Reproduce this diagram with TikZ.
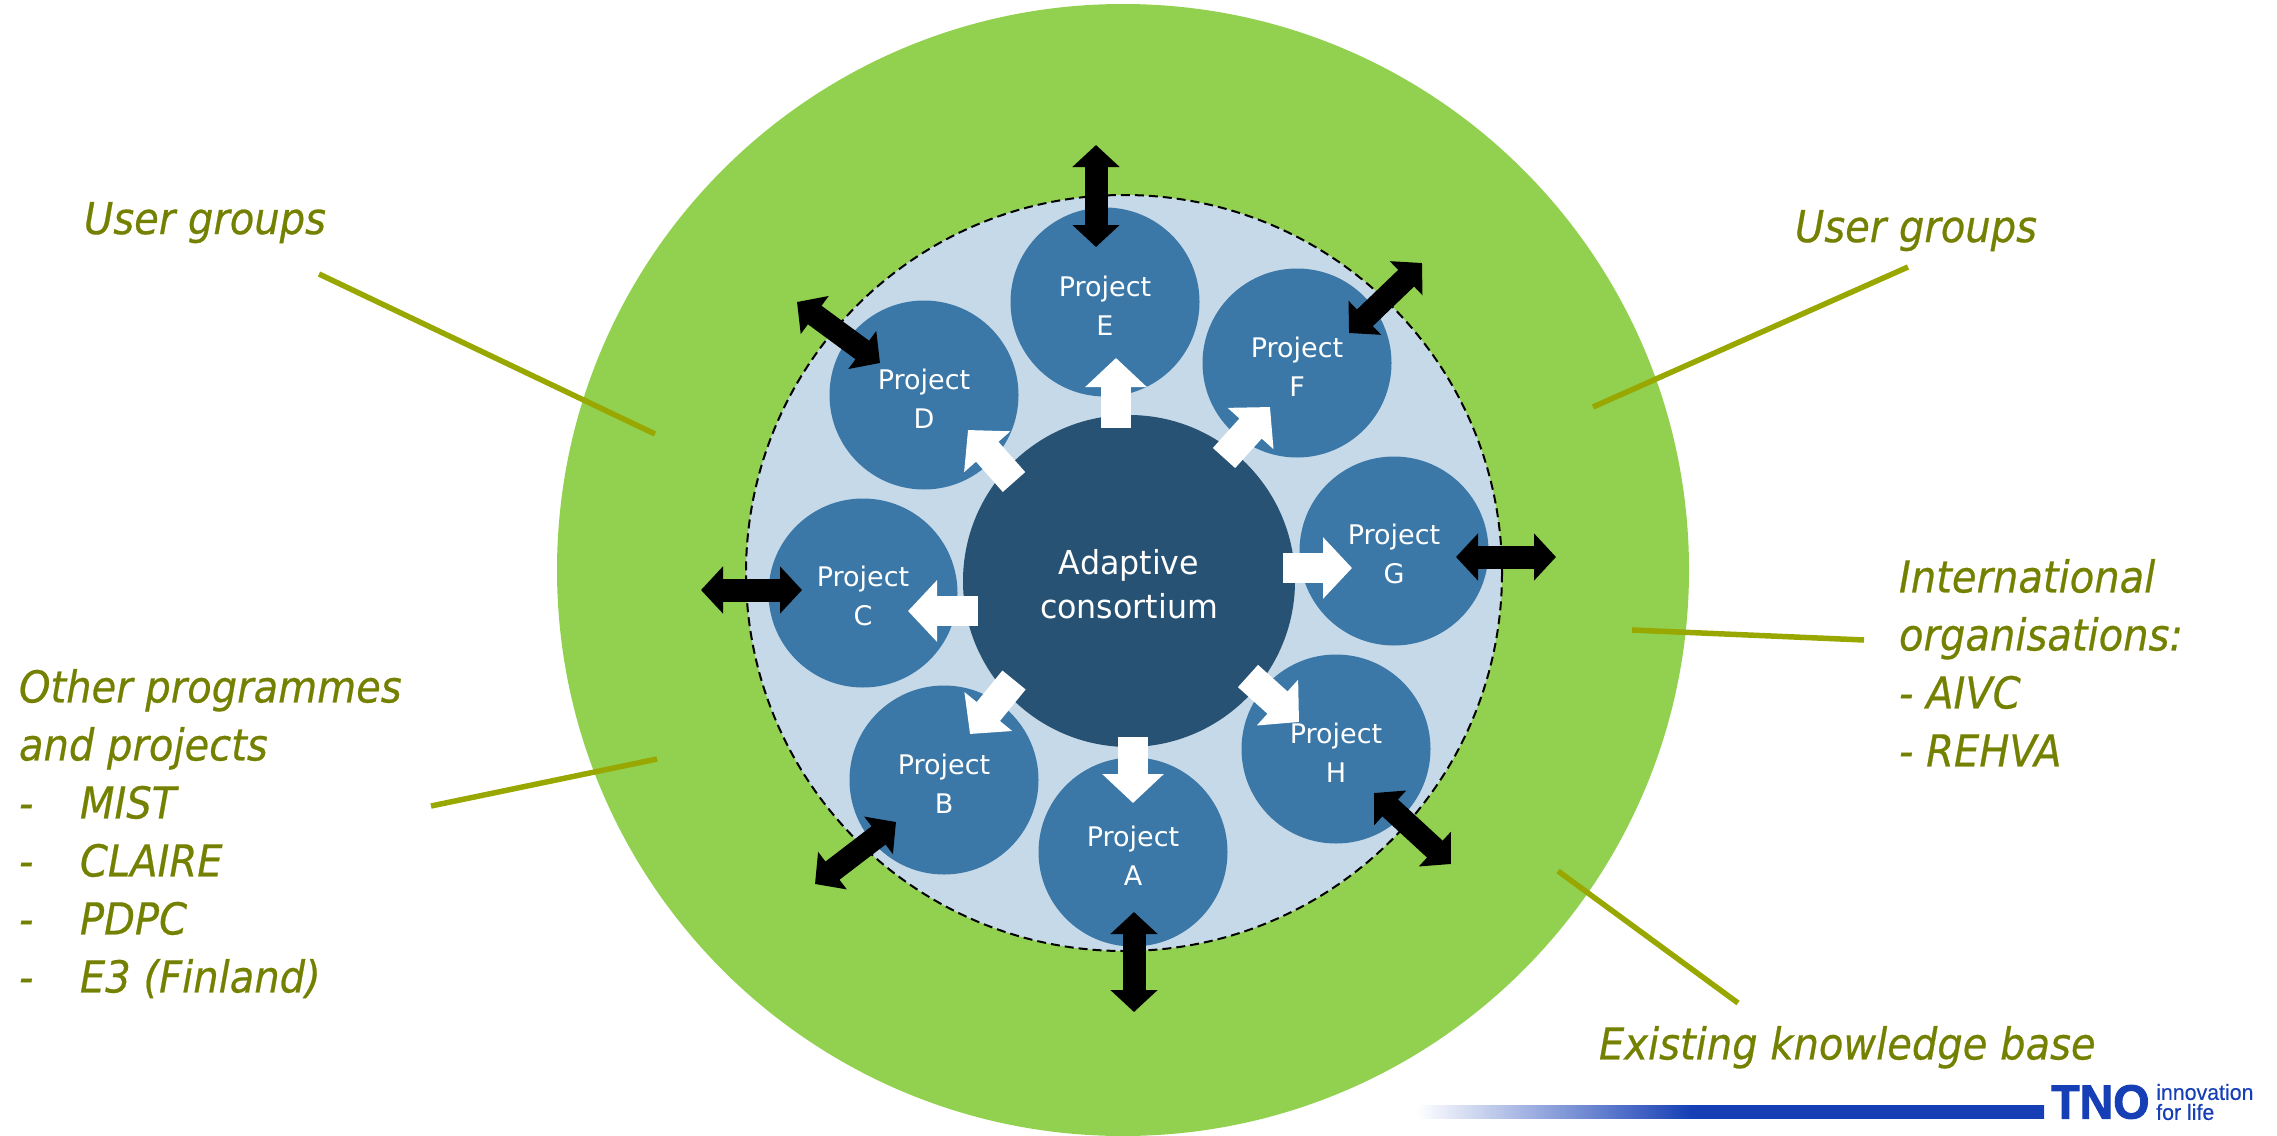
\documentclass[tikz,border=0pt]{standalone}
\usepackage{fontspec}
\setmainfont{DejaVu Sans}[FakeStretch=1.0]
\newfontfamily\hubfont{DejaVu Sans}[FakeStretch=0.96]
\newfontfamily\labelfont{DejaVu Sans}[FakeStretch=0.91,FakeBold=0.5]
\newfontfamily\logofont{Liberation Sans}[FakeStretch=0.97,FakeBold=2]
\newfontfamily\taglinefont{Liberation Sans}[FakeStretch=0.97,FakeBold=0.3]
\usepackage{tikz}
\usetikzlibrary{arrows.meta}
\definecolor{ringgreen}{HTML}{92D050}
\definecolor{innerblue}{HTML}{C6D9E8}
\definecolor{projblue}{HTML}{3B78A8}
\definecolor{hubblue}{HTML}{275273}
\definecolor{textolive}{HTML}{748000}
\definecolor{leadolive}{HTML}{99A800}
\definecolor{tnoblue}{HTML}{163FB5}
\pgfdeclarehorizontalshading{barfade}{100bp}{color(0bp)=(white); color(25bp)=(white); color(46.85bp)=(tnoblue); color(100bp)=(tnoblue)}
\newcommand{\projtext}[1]{\rule{0pt}{27pt}Project\\#1}

\begin{document}
\begin{tikzpicture}[
                x=1pt, y=-1pt,
                ringnode/.style={circle, fill=ringgreen, inner sep=0pt, outer sep=0pt, minimum size=1132pt},
                innernode/.style={circle, draw=black, dashed, line width=2pt, dash pattern=on 9pt off 5pt, fill=innerblue, inner sep=0pt, outer sep=0pt, minimum size=756pt},
                hubnode/.style={circle, fill=hubblue, text=white, align=center, inner sep=0pt, outer sep=0pt, minimum size=332pt, font=\hubfont\fontsize{33}{44}\selectfont},
                projnode/.style={circle, fill=projblue, text=white, align=center, inner sep=0pt, outer sep=0pt, minimum size=189pt, font=\fontsize{27}{39}\selectfont},
                labelnode/.style={text=textolive, align=left, anchor=north west, inner sep=0pt, outer sep=0pt, font=\labelfont\fontsize{44}{58}\selectfont\itshape},
                leadline/.style={draw=leadolive, line width=5.5pt},
                outarrow/.style={draw=white, line width=30pt, -{Triangle[length=29pt,width=60pt]}},
                linkarrow/.style={draw=black, line width=23pt, {Triangle[length=22pt,width=46pt]}-{Triangle[length=22pt,width=46pt]}},
            ]
            \useasboundingbox (0,0) rectangle (2277,1135);

            % Nodes
            \node[ringnode]     (ring)      at (1123,570)   {};
            \node[innernode]    (inner)     at (1124,573)   {};
            \node[hubnode]      (hub)       at (1129,581)   {\rule{0pt}{31pt}Adaptive\\consortium};

            \node[projnode]     (proj_A)    at (1133,852)   {\projtext{A}};
            \node[projnode]     (proj_B)    at (944,780)    {\projtext{B}};
            \node[projnode]     (proj_C)    at (863,593)    {\projtext{C}};
            \node[projnode]     (proj_D)    at (924,395)    {\projtext{D}};
            \node[projnode]     (proj_E)    at (1105,302)   {\projtext{E}};
            \node[projnode]     (proj_F)    at (1297,363)   {\projtext{F}};
            \node[projnode]     (proj_G)    at (1394,551)   {\projtext{G}};
            \node[projnode]     (proj_H)    at (1336,749)   {\projtext{H}};

            \node[labelnode]    (users_l)   at (84,202)     {User groups};
            \node[labelnode]    (users_r)   at (1795,210)   {User groups};
            \node[labelnode]    (intl)      at (1899,559)   {International\\organisations:\\- AIVC\\- REHVA};
            \node[labelnode]    (base)      at (1599,1026)  {Existing knowledge base};
            \node[labelnode]    (others)    at (19,669)     {Other programmes\\and projects\\\makebox[61pt][l]{-}MIST\\\makebox[61pt][l]{-}CLAIRE\\\makebox[61pt][l]{-}PDPC\\\makebox[61pt][l]{-}E3 (Finland)};

            % Logo
            \shade[shading=barfade, draw=none] (1417,1105) rectangle (2044,1118);
            \node[text=tnoblue, inner sep=0pt, anchor=west, font=\logofont\bfseries\fontsize{48}{48}\selectfont] (tno) at (2051,1102) {TNO};
            \node[text=tnoblue, inner sep=0pt, anchor=west, align=left, font=\taglinefont\fontsize{22}{20}\selectfont] (tagline) at (2156,1102) {innovation\\for life};

            % Ends of the lines and arrows
            \coordinate (lead_a1) at (319,274);   \coordinate (lead_a2) at (655,434);
            \coordinate (lead_b1) at (1908,267);  \coordinate (lead_b2) at (1593,407);
            \coordinate (lead_c1) at (1864,640);  \coordinate (lead_c2) at (1632,630);
            \coordinate (lead_d1) at (1738,1003); \coordinate (lead_d2) at (1558,871);
            \coordinate (lead_e1) at (431,806);   \coordinate (lead_e2) at (657,759);

            \coordinate (out_A1) at (1133,737);  \coordinate (out_A2) at (1133,803);
            \coordinate (out_B1) at (1014,680);  \coordinate (out_B2) at (970,734);
            \coordinate (out_C1) at (978,611);   \coordinate (out_C2) at (908,611);
            \coordinate (out_D1) at (1014,482);  \coordinate (out_D2) at (968,430);
            \coordinate (out_E1) at (1116,428);  \coordinate (out_E2) at (1116,358);
            \coordinate (out_F1) at (1224,458);  \coordinate (out_F2) at (1270,407);
            \coordinate (out_G1) at (1283,568);  \coordinate (out_G2) at (1352,568);
            \coordinate (out_H1) at (1248,676);  \coordinate (out_H2) at (1299,722);

            \coordinate (link_A1) at (1134,912); \coordinate (link_A2) at (1134,1012);
            \coordinate (link_B1) at (896,822);  \coordinate (link_B2) at (815,884);
            \coordinate (link_C1) at (802,590);  \coordinate (link_C2) at (701,590);
            \coordinate (link_D1) at (880,363);  \coordinate (link_D2) at (797,302);
            \coordinate (link_E1) at (1096,247); \coordinate (link_E2) at (1096,145);
            \coordinate (link_F1) at (1349,333); \coordinate (link_F2) at (1422,263);
            \coordinate (link_G1) at (1456,557); \coordinate (link_G2) at (1556,557);
            \coordinate (link_H1) at (1374,793); \coordinate (link_H2) at (1451,864);

            %Lines
            \draw[leadline] (lead_a1) -- (lead_a2);
            \draw[leadline] (lead_b1) -- (lead_b2);
            \draw[leadline] (lead_c1) -- (lead_c2);
            \draw[leadline] (lead_d1) -- (lead_d2);
            \draw[leadline] (lead_e1) -- (lead_e2);

            \draw[outarrow] (out_A1) -- (out_A2);
            \draw[outarrow] (out_B1) -- (out_B2);
            \draw[outarrow] (out_C1) -- (out_C2);
            \draw[outarrow] (out_D1) -- (out_D2);
            \draw[outarrow] (out_E1) -- (out_E2);
            \draw[outarrow] (out_F1) -- (out_F2);
            \draw[outarrow] (out_G1) -- (out_G2);
            \draw[outarrow] (out_H1) -- (out_H2);

            \draw[linkarrow] (link_A1) -- (link_A2);
            \draw[linkarrow] (link_B1) -- (link_B2);
            \draw[linkarrow] (link_C1) -- (link_C2);
            \draw[linkarrow] (link_D1) -- (link_D2);
            \draw[linkarrow] (link_E1) -- (link_E2);
            \draw[linkarrow] (link_F1) -- (link_F2);
            \draw[linkarrow] (link_G1) -- (link_G2);
            \draw[linkarrow] (link_H1) -- (link_H2);
        \end{tikzpicture}
\end{document}
